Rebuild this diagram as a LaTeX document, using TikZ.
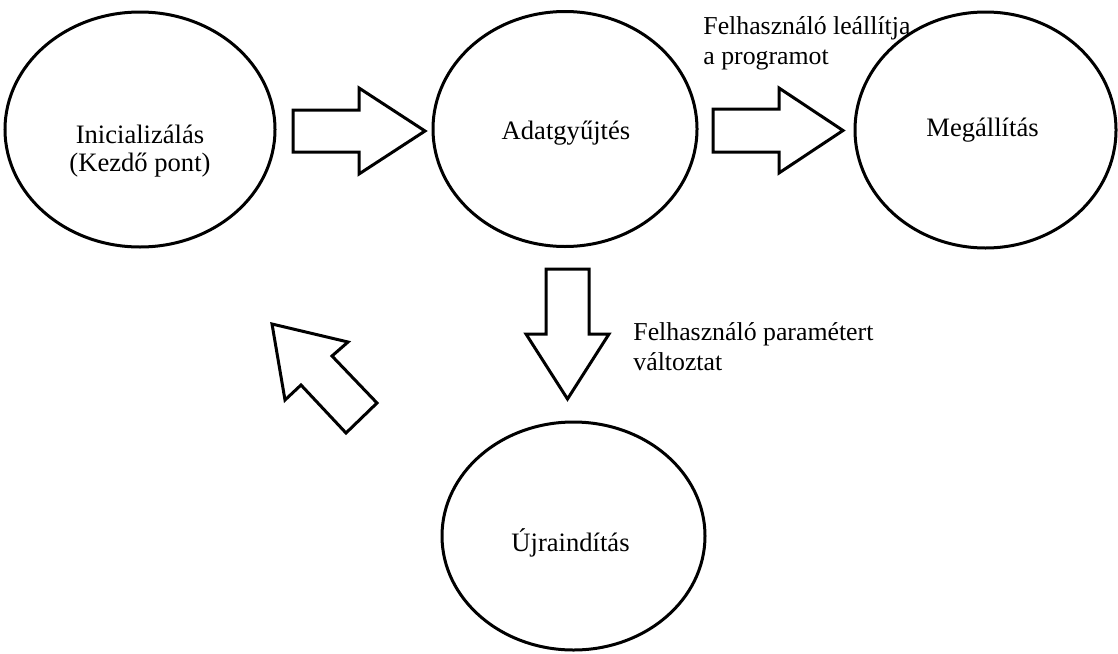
\documentclass[tikz,border=0pt]{standalone}
\usepackage{fontspec}
\setmainfont{Liberation Serif}
\usetikzlibrary{shapes.geometric}

\tikzset{
  state/.style={ellipse, draw, line width=1.5pt, inner sep=0pt},
  statetext/.style={align=center, inner sep=0pt,
    font=\fontsize{13.3pt}{14pt}\selectfont},
  blockarrow/.style={draw, line width=1.5pt, line join=miter, fill=white},
  note/.style={anchor=west, align=left, inner sep=0pt,
    font=\fontsize{12.9pt}{15pt}\selectfont}
}

\begin{document}
\begin{tikzpicture}[x=0.5pt, y=-0.5pt]
  \useasboundingbox (0,0) rectangle (1118,653);

  % states
  \node[state, minimum width=135pt, minimum height=117.5pt] (init) at (140,129.5) {};
  \node[state, minimum width=132pt, minimum height=117.5pt] (collect) at (565,129) {};
  \node[state, minimum width=130.5pt, minimum height=118pt] (stop) at (985.5,130) {};
  \node[state, minimum width=131.5pt, minimum height=114pt] (restart) at (573.5,536) {};

  % state names
  \node[statetext] (inittext) at ([yshift=-11pt]init.center) {Inicializálás\\(Kezdő pont)};
  \node[statetext] (collecttext) at ([xshift=0.5pt,yshift=-2pt]collect.center) {Adatgyűjtés};
  \node[statetext] (stoptext) at ([xshift=-1.5pt]stop.center) {Megállítás};
  \node[statetext] (restarttext) at ([xshift=-1.5pt,yshift=-3.3pt]restart.center) {Újraindítás};

  % block arrows between the states
  \draw[blockarrow] (293,110) -- (359,110) -- (359,88) -- (425,131)
    -- (359,174) -- (359,152) -- (293,152) -- cycle;
  \draw[blockarrow] (713,109) -- (779,109) -- (779,88) -- (843,130.5)
    -- (779,173) -- (779,152) -- (713,152) -- cycle;
  \draw[blockarrow] (546,269) -- (589,269) -- (589,334) -- (609,334)
    -- (567.5,399) -- (526,334) -- (546,334) -- cycle;
  \draw[blockarrow] (272,324) -- (348,342) -- (332,356) -- (377,403)
    -- (346,433) -- (301,385) -- (285,400) -- cycle;

  % transition labels
  \node[note] (stoplabel) at (703,43) {Felhasználó leállítja\\a programot};
  \node[note] (paramlabel) at (633,347) {Felhasználó paramétert\\változtat};
\end{tikzpicture}
\end{document}
